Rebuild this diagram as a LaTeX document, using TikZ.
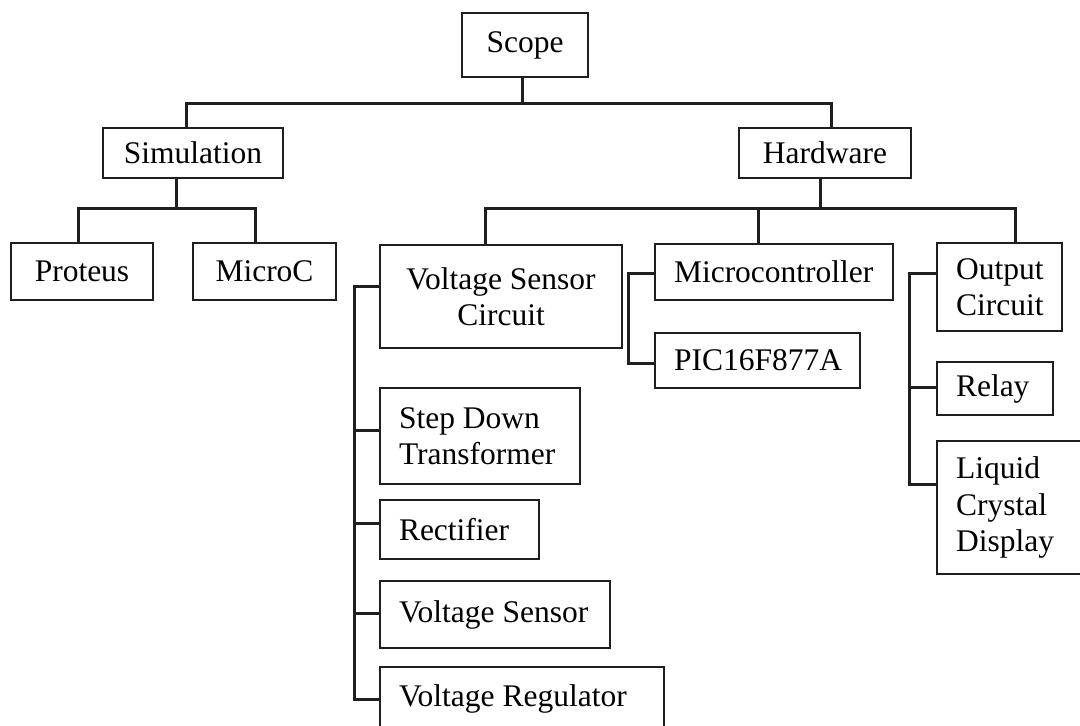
\documentclass[tikz,border=0pt]{standalone}
\usepackage{fontspec}
\setmainfont{Liberation Serif}
\begin{document}
\begin{tikzpicture}[x=1pt,y=-1pt,
  box/.style={draw=black!88, line width=2pt, rectangle, anchor=north west,
    inner ysep=0pt, font=\fontsize{31.5}{36.5}\selectfont, text=black},
  ctr/.style={box, align=center, inner xsep=4pt},
  lft/.style={box, align=flush left, inner xsep=19pt},
  conn/.style={draw=black!88, line width=3pt, line join=miter}]
\useasboundingbox (0,0) rectangle (1080,726);
% boxes
\node[ctr, minimum width=126, minimum height=64] (scope) at (461,12) {Scope};
\node[ctr, minimum width=180, minimum height=50] (sim) at (102,127) {Simulation};
\node[ctr, minimum width=172, minimum height=50] (hw) at (738,127) {Hardware};
\node[ctr, minimum width=142, minimum height=57] (proteus) at (10,242) {Proteus};
\node[ctr, minimum width=143, minimum height=57] (microc) at (192,242) {MicroC};
\node[ctr, minimum width=242, minimum height=103] (vsc) at (379,244) {Voltage Sensor\\Circuit};
\node[lft, minimum height=56, text width=200] (mcu) at (654,243) {Microcontroller};
\node[lft, minimum height=55, text width=167] (pic) at (654,332) {PIC16F877A};
\node[lft, minimum height=88, text width=87] (out) at (936,242) {Output\\Circuit};
\node[lft, minimum height=53, text width=78] (relay) at (936,361) {Relay};
\node[lft, minimum height=133, text width=120] (lcd) at (936,440) {Liquid\\Crystal\\Display};
\node[lft, minimum height=96, text width=162] (step) at (379,387) {\mbox{Step Down}\\Transformer};
\node[lft, minimum height=59, text width=121] (rect) at (379,499) {Rectifier};
\node[lft, minimum height=67, text width=192] (vs) at (379,580) {\mbox{Voltage Sensor}};
\node[lft, minimum height=64, text width=246] (vr) at (379,666) {\mbox{Voltage Regulator}};
% junctions
\coordinate (j0) at (522,103);
\coordinate (j0l) at (186,103);
\coordinate (j0r) at (831,103);
\coordinate (j1) at (176,208);
\coordinate (j1l) at (78,208);
\coordinate (j1r) at (255,208);
\coordinate (j2) at (820,208);
\coordinate (j2a) at (485,208);
\coordinate (j2b) at (758,208);
\coordinate (j2c) at (1015,208);
\coordinate (s1) at (354,286);
\coordinate (s2) at (354,430);
\coordinate (s3) at (354,523);
\coordinate (s4) at (354,613);
\coordinate (s5) at (354,699);
\coordinate (m1) at (628,273);
\coordinate (m2) at (628,363);
\coordinate (o1) at (909,273);
\coordinate (o2) at (909,387);
\coordinate (o3) at (909,484);
% connectors
\draw[conn] (scope.south -| j0) -- (j0);
\draw[conn] (sim.north -| j0l) -- (j0l) -- (j0r) -- (hw.north -| j0r);
\draw[conn] (sim.south -| j1) -- (j1);
\draw[conn] (proteus.north -| j1l) -- (j1l) -- (j1r) -- (microc.north -| j1r);
\draw[conn] (hw.south -| j2) -- (j2);
\draw[conn] (vsc.north -| j2a) -- (j2a) -- (j2c) -- (out.north -| j2c);
\draw[conn] (j2b) -- (mcu.north -| j2b);
\draw[conn] (vsc.west |- s1) -- (s1) -- (s5) -- (vr.west |- s5);
\draw[conn] (s2) -- (step.west |- s2);
\draw[conn] (s3) -- (rect.west |- s3);
\draw[conn] (s4) -- (vs.west |- s4);
\draw[conn] (mcu.west |- m1) -- (m1) -- (m2) -- (pic.west |- m2);
\draw[conn] (out.west |- o1) -- (o1) -- (o3) -- (lcd.west |- o3);
\draw[conn] (o2) -- (relay.west |- o2);
\end{tikzpicture}
\end{document}
